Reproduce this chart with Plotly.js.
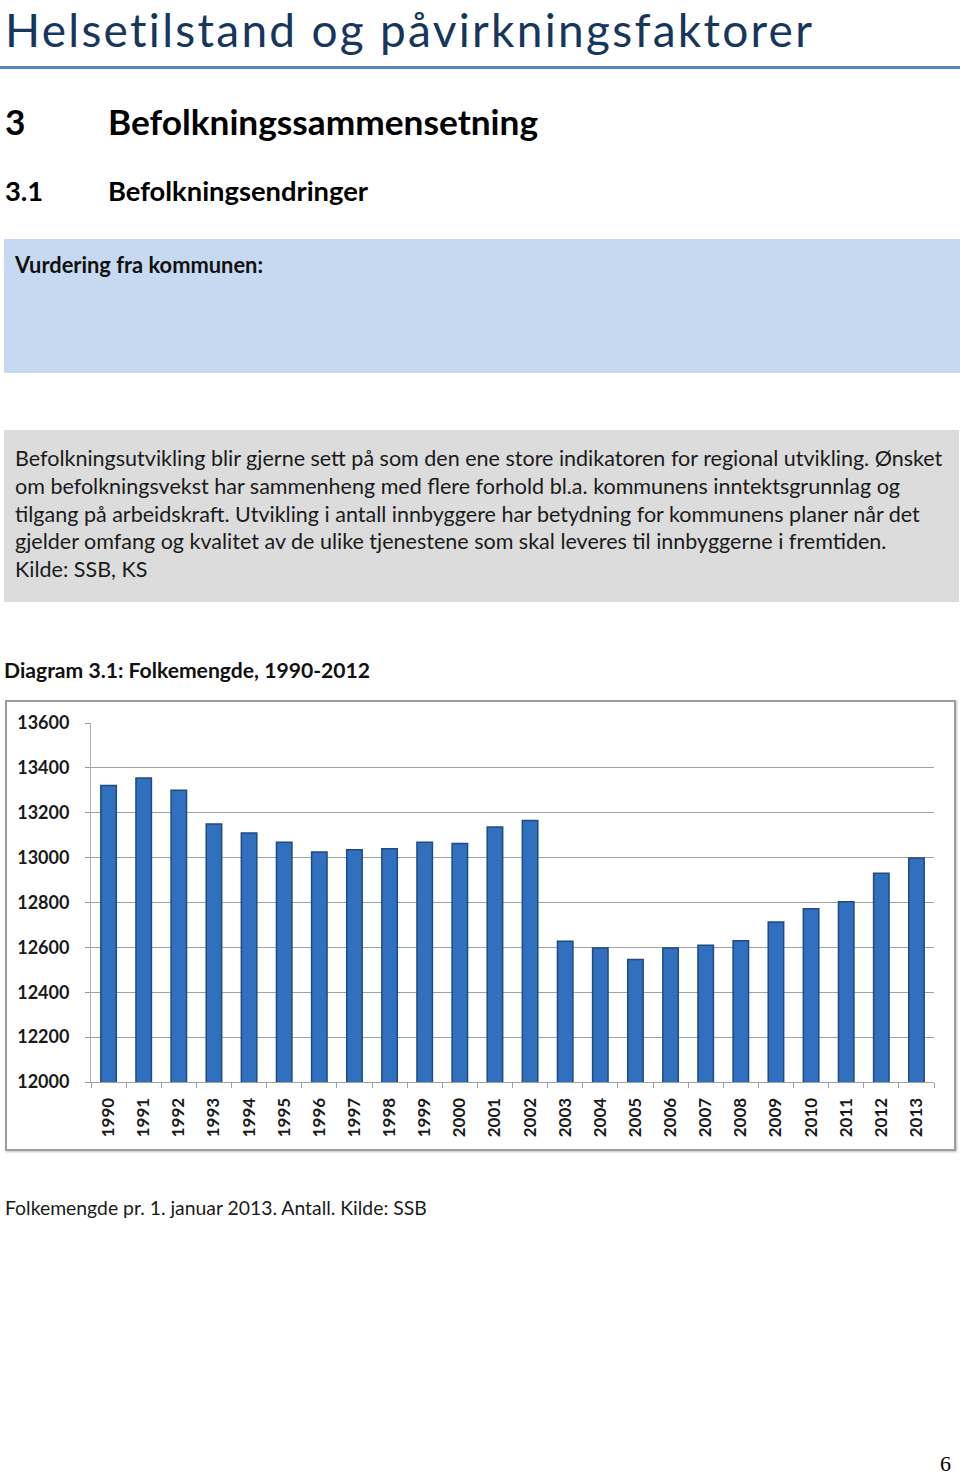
<!DOCTYPE html>
<html>
<head>
<meta charset="utf-8">
<script src="https://cdn.plot.ly/plotly-3.0.1.min.js"></script>
<style>
  html, body { margin:0; padding:0; background:#ffffff; }
  body { width:960px; height:1475px; position:relative; overflow:hidden; }
  #doc { position:absolute; left:0; top:0; }
  #chart { position:absolute; left:5px; top:700px; width:947px; height:447px;
           border:2px solid #9c9c9c; box-shadow: 1px 1px 2px rgba(0,0,0,0.25); }
</style>
</head>
<body>
<svg id="doc" width="960" height="1475" xmlns="http://www.w3.org/2000/svg">
  <rect x="0" y="66" width="960" height="3" fill="#5B86B8"/>
  <rect x="4" y="239" width="956" height="134" fill="#C6D9F1"/>
  <rect x="4" y="430" width="955" height="172" fill="#DCDCDC"/>

  <g font-family="Lato, 'Open Sans', sans-serif">
    <text x="5" y="47" font-size="46" font-weight="400" fill="#17365D" data-g="title" data-w="810" data-mode="spacing">Helsetilstand og påvirkningsfaktorer</text>

    <text x="5" y="135" font-size="32" font-weight="700" fill="#000" data-g="h1">3</text>
    <text x="108" y="135" font-size="32" font-weight="700" fill="#000" data-g="h1" data-w="430">Befolkningssammensetning</text>

    <text x="5" y="201" font-size="26" font-weight="700" fill="#000" data-g="h2">3.1</text>
    <text x="108" y="201" font-size="26" font-weight="700" fill="#000" data-g="h2" data-w="260">Befolkningsendringer</text>

    <text x="15" y="273" font-size="21" font-weight="700" fill="#111" data-g="vur" data-w="248">Vurdering fra kommunen:</text>

    <text x="15" y="466" font-size="21" fill="#1a1a1a" data-g="body" data-w="927">Befolkningsutvikling blir gjerne sett på som den ene store indikatoren for regional utvikling. Ønsket</text>
    <text x="15" y="494" font-size="21" fill="#1a1a1a" data-g="body">om befolkningsvekst har sammenheng med flere forhold bl.a. kommunens inntektsgrunnlag og</text>
    <text x="15" y="522" font-size="21" fill="#1a1a1a" data-g="body">tilgang på arbeidskraft. Utvikling i antall innbyggere har betydning for kommunens planer når det</text>
    <text x="15" y="549" font-size="21" fill="#1a1a1a" data-g="body">gjelder omfang og kvalitet av de ulike tjenestene som skal leveres til innbyggerne i fremtiden.</text>
    <text x="15" y="577" font-size="21" fill="#1a1a1a" data-g="body">Kilde: SSB, KS</text>

    <text x="4" y="678" font-size="21" font-weight="700" fill="#111" data-g="diag" data-w="366">Diagram 3.1: Folkemengde, 1990-2012</text>

    <text x="5" y="1215" font-size="20" fill="#1a1a1a" data-g="cap" data-w="422">Folkemengde pr. 1. januar 2013. Antall. Kilde: SSB</text>
  </g>
  <text x="940" y="1471" font-family="'Liberation Serif', 'DejaVu Serif', serif" font-size="22" fill="#000">6</text>
</svg>

<div id="chart"></div>

<script>
// ---- data ----
const years = ['1990','1991','1992','1993','1994','1995','1996','1997','1998','1999','2000','2001',
               '2002','2003','2004','2005','2006','2007','2008','2009','2010','2011','2012','2013'];
const population = [13322, 13355, 13300, 13150, 13110, 13068, 13025, 13035, 13040, 13068, 13063, 13136,
                    13166, 12627, 12597, 12546, 12597, 12609, 12630, 12713, 12772, 12803, 12930, 12998];
const yTickVals = [12000, 12200, 12400, 12600, 12800, 13000, 13200, 13400, 13600];

// ---- fit document text widths ----
function fitText() {
  const groups = {};
  document.querySelectorAll('#doc text[data-g]').forEach(t => {
    const g = t.getAttribute('data-g');
    (groups[g] = groups[g] || []).push(t);
  });
  Object.values(groups).forEach(list => {
    const ref = list.find(t => t.hasAttribute('data-w'));
    if (!ref) return;
    const target = parseFloat(ref.getAttribute('data-w'));
    if (ref.getAttribute('data-mode') === 'spacing') {
      ref.setAttribute('letter-spacing', '0');
      const w0 = ref.getComputedTextLength();
      const n = ref.textContent.length;
      if (w0 > 0 && n > 1) {
        ref.setAttribute('letter-spacing', ((target - w0) / n).toFixed(3));
      }
      return;
    }
    const size = parseFloat(ref.getAttribute('font-size'));
    const w = ref.getComputedTextLength();
    if (w > 0) {
      const ns = size * target / w;
      list.forEach(t => t.setAttribute('font-size', ns.toFixed(2)));
    }
  });
}

const tickFont = {family: 'Lato, "Liberation Sans", sans-serif', size: 18, color: '#1a1a1a', weight: 700};

const trace = {
  type: 'bar',
  x: years,
  y: population,
  marker: {color: '#3170BE', line: {color: '#1E4A85', width: 1.5}},
  hoverinfo: 'x+y'
};

const layout = {
  width: 947, height: 447,
  margin: {l: 84, r: 20, t: 21, b: 67},
  paper_bgcolor: '#ffffff', plot_bgcolor: '#ffffff',
  bargap: 0.56,
  showlegend: false,
  font: tickFont,
  xaxis: {
    type: 'category',
    tickangle: -90,
    tickfont: {family: tickFont.family, size: 17, color: '#1a1a1a', weight: 700},
    ticks: 'outside', ticklen: 5, tickcolor: '#a0a0a0', tickson: 'boundaries',
    showline: true, linecolor: '#a0a0a0', linewidth: 1,
    showgrid: false, ticklabelstandoff: 8, fixedrange: true
  },
  yaxis: {
    range: [12000, 13600],
    tickvals: yTickVals,
    ticktext: yTickVals.map(String),
    tickfont: tickFont,
    ticks: 'outside', ticklen: 5, tickcolor: '#9a9a9a',
    showline: true, linecolor: '#b0b0b0', linewidth: 1,
    showgrid: true, gridcolor: '#a0a0a0', gridwidth: 1,
    zeroline: false, ticklabelstandoff: 12, fixedrange: true
  }
};

Plotly.newPlot('chart', [trace], layout, {displayModeBar: false, staticPlot: true});

fitText();
if (document.fonts && document.fonts.ready) {
  document.fonts.ready.then(fitText);
}
</script>
</body>
</html>
